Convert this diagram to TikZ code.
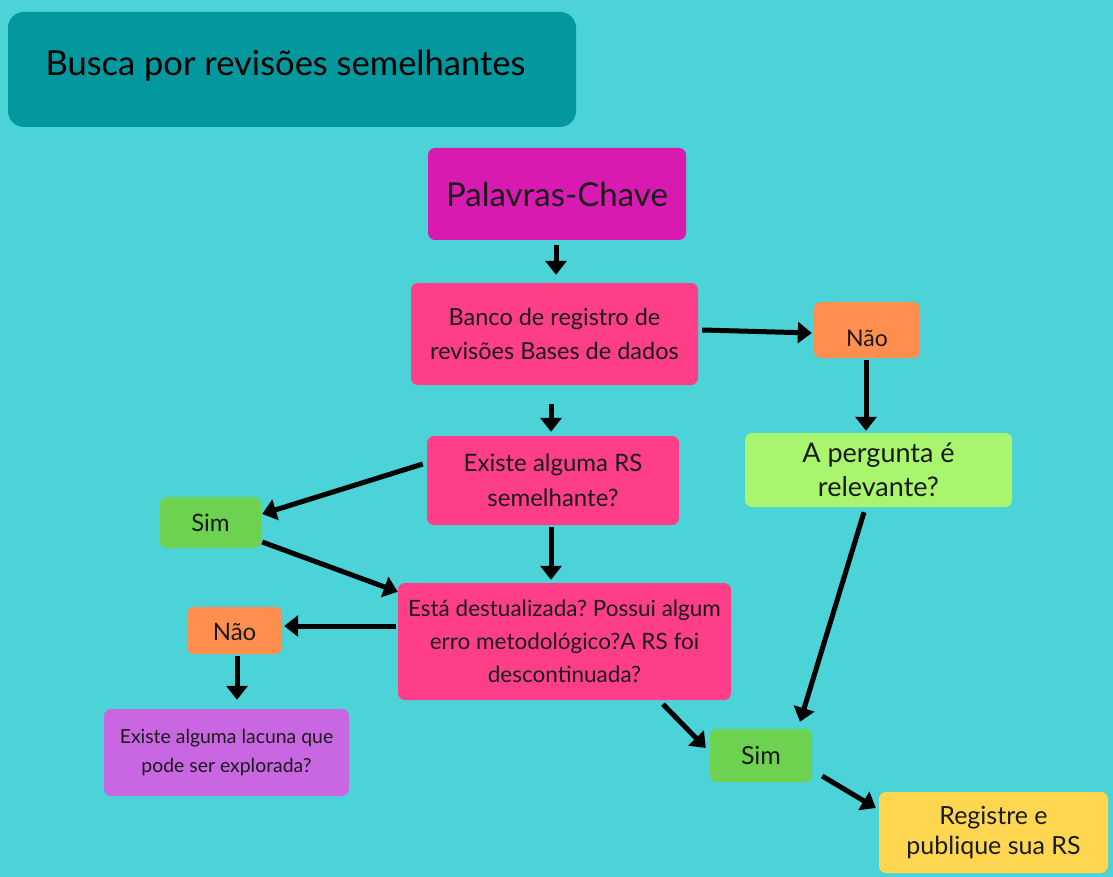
\documentclass[tikz,border=0pt]{standalone}
\usepackage{fontspec}
\setmainfont{Lato}
\frenchspacing
\usetikzlibrary{arrows.meta,calc}
\definecolor{bg}{HTML}{4BD3D7}
\definecolor{banner}{HTML}{03979E}
\definecolor{magenta}{HTML}{D91AB0}
\definecolor{rosa}{HTML}{FF3E8A}
\definecolor{laranja}{HTML}{FF8E4F}
\definecolor{verdecl}{HTML}{A9F56E}
\definecolor{verde}{HTML}{6DD24F}
\definecolor{roxo}{HTML}{C967E3}
\definecolor{amarelo}{HTML}{FFD650}
\definecolor{tinta}{HTML}{1A1A1A}
\tikzset{
  box/.style={rounded corners=7pt, inner sep=0pt, align=center, text=tinta},
  arr/.style={line width=5pt, draw=black, -{Triangle[length=14pt,width=21pt]}},
}
\begin{document}
\begin{tikzpicture}[x=1pt,y=-1pt]
\fill[bg] (0,0) rectangle (1113,877);
\useasboundingbox (0,0) rectangle (1113,877);
% title banner
\fill[banner, rounded corners=16pt] (8,12) rectangle (576,127);
\node[anchor=west, text=black, font=\fontsize{34.5}{40}\selectfont] (title) at (42,66) {Busca por revisões semelhantes};
% nodes
\node[box, fill=magenta, minimum width=258pt, minimum height=92pt, font=\fontsize{33}{38}\selectfont] (pal) at (557,194) {Palavras-Chave};
\node[box, fill=rosa, minimum width=287pt, minimum height=102pt, font=\fontsize{23.5}{34}\selectfont] (banco) at (554.5,334) {Banco de registro de\\revisões Bases de dados};
\node[box, fill=laranja, minimum width=106pt, minimum height=56pt, text height=38pt, text depth=5pt, font=\fontsize{23}{26}\selectfont] (naoT) at (867,330) {Não};
\node[box, fill=verdecl, minimum width=267pt, minimum height=74pt, font=\fontsize{27}{34}\selectfont] (perg) at (878.5,470) {A pergunta é\\relevante?};
\node[box, fill=rosa, minimum width=252pt, minimum height=89pt, font=\fontsize{24}{35}\selectfont] (exist) at (553,480.5) {Existe alguma RS\\semelhante?};
\node[box, fill=verde, minimum width=101pt, minimum height=51pt, font=\fontsize{24}{28}\selectfont] (simL) at (210.5,522.5) {Sim};
\node[box, fill=rosa, minimum width=333pt, minimum height=117pt, font=\fontsize{22.5}{33}\selectfont] (esta) at (564.5,641.5) {Está destualizada? Possui algum\\erro metodológico?A RS foi\\descontinuada?};
\node[box, fill=laranja, minimum width=95pt, minimum height=47pt, text height=24pt, text depth=5pt, font=\fontsize{24}{28}\selectfont] (naoL) at (234.5,630.5) {Não};
\node[box, fill=roxo, minimum width=245pt, minimum height=87pt, font=\fontsize{19.4}{29}\selectfont] (lacuna) at (226.5,752.5) {Existe alguma lacuna que\\pode ser explorada?};
\node[box, fill=verde, minimum width=102pt, minimum height=53pt, font=\fontsize{25}{28}\selectfont] (simB) at (761,755.5) {Sim};
\node[box, fill=amarelo, minimum width=229pt, minimum height=81pt, font=\fontsize{25}{30}\selectfont] (reg) at (993.5,832.5) {Registre e\\publique sua RS};
% connectors
\draw[arr] ($(pal.south)+(-1,5)$) -- ($(banco.north)+(1.5,-8)$);
\draw[arr] ($(banco.east)+(4,-4)$) -- ($(naoT.west)+(-2,3)$);
\draw[arr] ($(naoT.south)+(-1,2)$) -- ($(perg.north)+(-12.5,-2)$);
\draw[arr] ($(banco.south)+(-3.5,19)$) -- ($(exist.north)+(-2,-4)$);
\draw[arr] ($(exist.west)+(-4,-16.5)$) -- ($(simL.east)+(1,-8.5)$);
\draw[arr] ($(simL.east)+(1,19.5)$) -- ($(esta.north west)+(0,9)$);
\draw[arr] ($(exist.south)+(-2,2)$) -- ($(esta.north)+(-13.5,-3)$);
\draw[arr] ($(esta.west)+(-2,-15.5)$) -- ($(naoL.east)+(2,-4.5)$);
\draw[arr] ($(naoL.south)+(2.5,2)$) -- ($(lacuna.north)+(10.5,-9)$);
\draw[arr] ($(esta.south)+(98.5,4)$) -- ($(simB.west)+(-4,-7.5)$);
\draw[arr] ($(perg.south)+(-14.5,5)$) -- ($(simB.north)+(39,-7)$);
\draw[arr] ($(simB.east)+(10,20.5)$) -- ($(reg.west)+(-3,-24.5)$);
\end{tikzpicture}
\end{document}
